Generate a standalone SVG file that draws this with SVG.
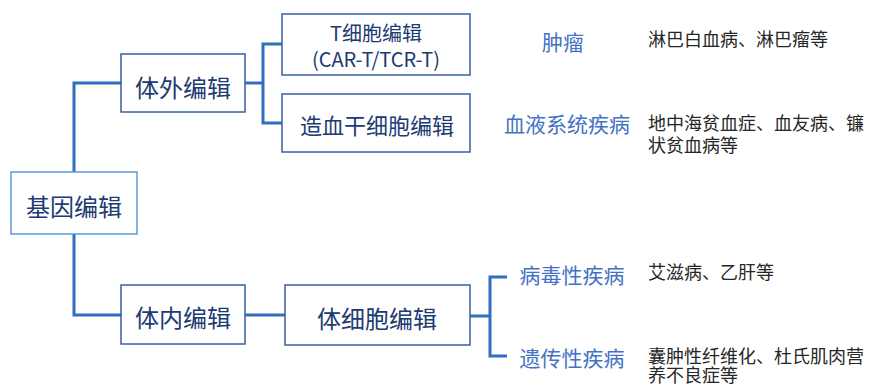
<svg xmlns="http://www.w3.org/2000/svg" width="869" height="385" viewBox="0 0 869 385">
<style>
.box{fill:#ffffff;stroke:#3a5fa0;stroke-width:1.5}
.root{fill:#ffffff;stroke:#5b9bd5;stroke-width:1.5}
.t{font-family:"Noto Sans CJK SC","Noto Sans",sans-serif;fill:#203a72;text-anchor:middle;dominant-baseline:central}
.b{font-family:"Noto Sans CJK SC","Noto Sans",sans-serif;fill:#4472c4;text-anchor:middle;dominant-baseline:central;font-size:21px}
.d{font-family:"Noto Sans CJK SC","Noto Sans",sans-serif;fill:#262626;dominant-baseline:central;font-size:18px}
.c{fill:none;stroke:#2e6fbf;stroke-width:3}
</style>
<rect width="869" height="385" fill="#ffffff"/>
<g id="connectors">
<polyline class="c" points="74,172 74,83 121,83"/>
<polyline class="c" points="74,234 74,315 121,315"/>
<polyline class="c" points="245,83 263,83"/>
<polyline class="c" points="282,44 263,44 263,123 282,123"/>
<polyline class="c" points="245,315 285,315"/>
<polyline class="c" points="470,316 490,316"/>
<polyline class="c" points="507,277 490,277 490,356 507,356"/>
</g>
<g id="n-root"><rect class="root" x="11" y="172" width="126" height="62"/><text class="t" x="74" y="205" font-size="24">基因编辑</text></g>
<g id="n-exvivo"><rect class="box" x="121" y="54" width="124" height="58"/><text class="t" x="183" y="86" font-size="24">体外编辑</text></g>
<g id="n-invivo"><rect class="box" x="121" y="285" width="124" height="59"/><text class="t" x="183" y="316" font-size="24">体内编辑</text></g>
<g id="n-tcell"><rect class="box" x="282" y="14" width="188" height="61"/><text class="t" font-size="20"><tspan x="376" y="32">T细胞编辑</tspan><tspan x="376" y="58">(CAR-T/TCR-T)</tspan></text></g>
<g id="n-hsc"><rect class="box" x="282" y="94" width="188" height="58"/><text class="t" x="377" y="124" font-size="22">造血干细胞编辑</text></g>
<g id="n-somatic"><rect class="box" x="285" y="285" width="185" height="60"/><text class="t" x="377" y="317" font-size="24">体细胞编辑</text></g>
<g id="n-tumor"><text class="b" x="563" y="41">肿瘤</text><text class="d" x="648" y="38">淋巴白血病、淋巴瘤等</text></g>
<g id="n-blood"><text class="b" x="567" y="123">血液系统疾病</text><text class="d"><tspan x="648" y="122">地中海贫血症、血友病、镰</tspan><tspan x="648" y="144">状贫血病等</tspan></text></g>
<g id="n-viral"><text class="b" x="572" y="274">病毒性疾病</text><text class="d" x="648" y="271">艾滋病、乙肝等</text></g>
<g id="n-genetic"><text class="b" x="572" y="357">遗传性疾病</text><text class="d"><tspan x="648" y="355">囊肿性纤维化、杜氏肌肉营</tspan><tspan x="648" y="374">养不良症等</tspan></text></g>
</svg>
